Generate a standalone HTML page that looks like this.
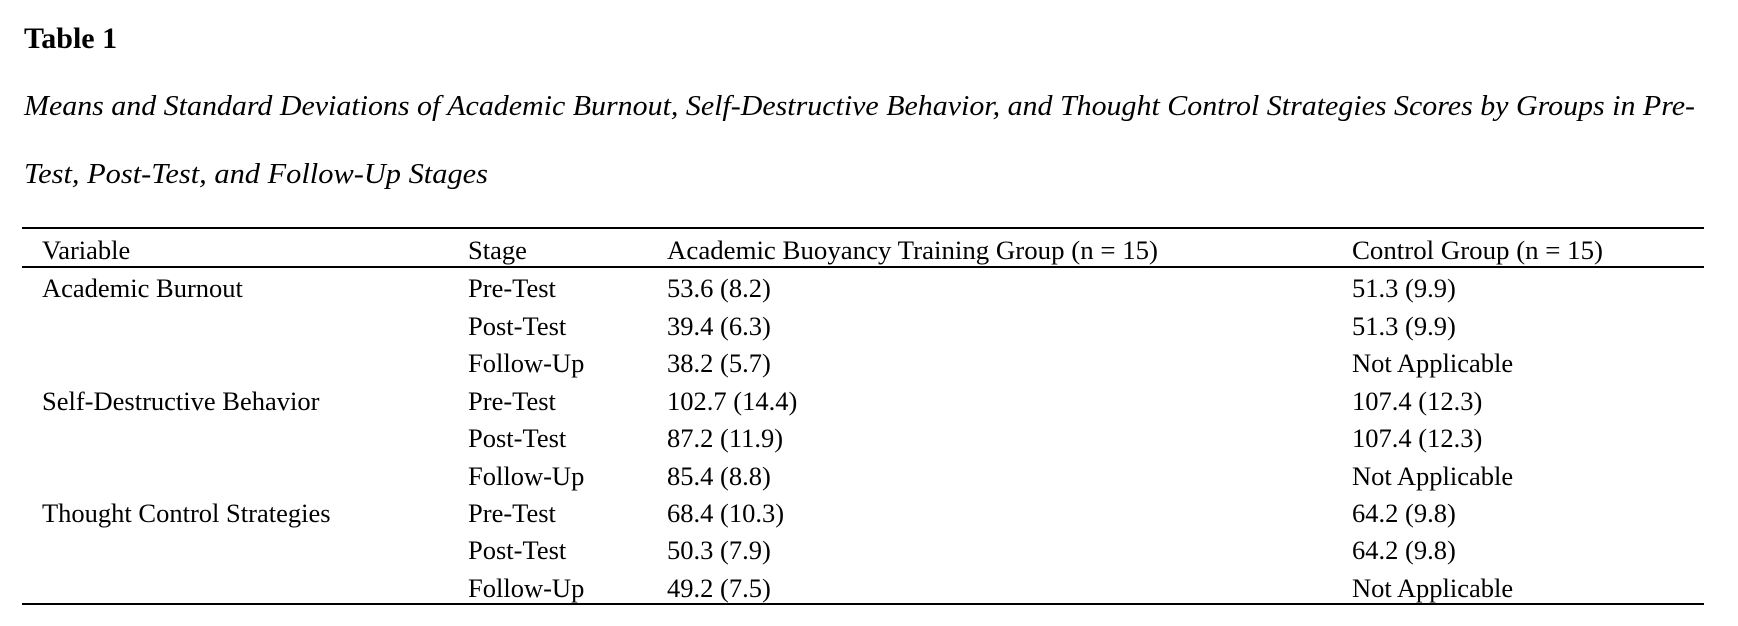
<!DOCTYPE html>
<html><head><meta charset="utf-8"><style>
html,body{margin:0;padding:0;background:#fff;}
svg{display:block}
text{font-family:"Liberation Serif","Times New Roman",serif;fill:#000;font-size:26.5px;}
</style></head><body>
<svg width="1738" height="626" viewBox="0 0 1738 626" xmlns="http://www.w3.org/2000/svg">
<text x="24" y="48" font-weight="bold" style="font-size:30px">Table 1</text>
<text x="24" y="115" font-style="italic" style="font-size:28px" textLength="1671" lengthAdjust="spacingAndGlyphs">Means and Standard Deviations of Academic Burnout, Self-Destructive Behavior, and Thought Control Strategies Scores by Groups in Pre-</text>
<text x="24" y="183" font-style="italic" style="font-size:28px" textLength="464" lengthAdjust="spacingAndGlyphs">Test, Post-Test, and Follow-Up Stages</text>
<line x1="22" y1="228" x2="1704" y2="228" stroke="#000" stroke-width="2"/>
<line x1="22" y1="267" x2="1704" y2="267" stroke="#000" stroke-width="2"/>
<line x1="22" y1="604" x2="1704" y2="604" stroke="#000" stroke-width="2"/>
<text x="42" y="259">Variable</text>
<text x="468" y="259">Stage</text>
<text x="667" y="259" textLength="491" lengthAdjust="spacingAndGlyphs">Academic Buoyancy Training Group (n = 15)</text>
<text x="1352" y="259" textLength="251" lengthAdjust="spacingAndGlyphs">Control Group (n = 15)</text>

<text x="42" y="297">Academic Burnout</text>
<text x="468" y="297">Pre-Test</text><text x="667" y="297">53.6 (8.2)</text><text x="1352" y="297">51.3 (9.9)</text>
<text x="468" y="335">Post-Test</text><text x="667" y="335">39.4 (6.3)</text><text x="1352" y="335">51.3 (9.9)</text>
<text x="468" y="372">Follow-Up</text><text x="667" y="372">38.2 (5.7)</text><text x="1352" y="372">Not Applicable</text>

<text x="42" y="410">Self-Destructive Behavior</text>
<text x="468" y="410">Pre-Test</text><text x="667" y="410">102.7 (14.4)</text><text x="1352" y="410">107.4 (12.3)</text>
<text x="468" y="447">Post-Test</text><text x="667" y="447">87.2 (11.9)</text><text x="1352" y="447">107.4 (12.3)</text>
<text x="468" y="485">Follow-Up</text><text x="667" y="485">85.4 (8.8)</text><text x="1352" y="485">Not Applicable</text>

<text x="42" y="522">Thought Control Strategies</text>
<text x="468" y="522">Pre-Test</text><text x="667" y="522">68.4 (10.3)</text><text x="1352" y="522">64.2 (9.8)</text>
<text x="468" y="559">Post-Test</text><text x="667" y="559">50.3 (7.9)</text><text x="1352" y="559">64.2 (9.8)</text>
<text x="468" y="597">Follow-Up</text><text x="667" y="597">49.2 (7.5)</text><text x="1352" y="597">Not Applicable</text>
</svg>
</body></html>
